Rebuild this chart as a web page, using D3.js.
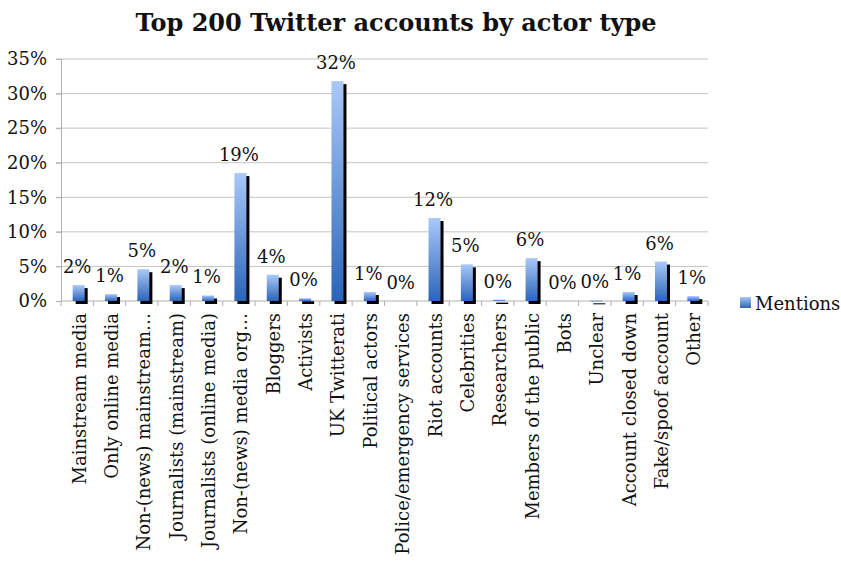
<!DOCTYPE html>
<html>
<head>
<meta charset="utf-8">
<script src="https://cdn.jsdelivr.net/npm/d3@7"></script>
<style>
  html, body { margin: 0; padding: 0; background: #fff; }
  svg { display: block; }
  text { font-family: "DejaVu Serif", serif; fill: #111; }
</style>
</head>
<body>
<svg id="chart" width="841" height="561"></svg>
<script>
const title = "Top 200 Twitter accounts by actor type";
const categories = [
  "Mainstream media", "Only online media", "Non-(news) mainstream…",
  "Journalists (mainstream)", "Journalists (online media)", "Non-(news) media org…",
  "Bloggers", "Activists", "UK Twitterati", "Political actors",
  "Police/emergency services", "Riot accounts", "Celebrities", "Researchers",
  "Members of the public", "Bots", "Unclear", "Account closed down",
  "Fake/spoof account", "Other"
];
const mentions = [
  0.023, 0.010, 0.046, 0.023, 0.008, 0.185,
  0.038, 0.004, 0.318, 0.013,
  0.000, 0.120, 0.053, 0.002,
  0.062, 0.000, 0.001, 0.013,
  0.057, 0.007
];
const seriesName = "Mentions";
const yTicks = [0, 0.05, 0.10, 0.15, 0.20, 0.25, 0.30, 0.35];

const svg = d3.select("#chart");
const pLeft = 61, pRight = 708, pTop = 59, pBottom = 301;

const x = d3.scaleBand().domain(categories).range([pLeft, pRight]).padding(0);
const y = d3.scaleLinear().domain([0, 0.35]).range([pBottom, pTop]);

const defs = svg.append("defs");
const grad = defs.append("linearGradient").attr("id", "barGrad")
  .attr("x1", 0).attr("y1", 0).attr("x2", 0).attr("y2", 1);
grad.append("stop").attr("offset", "0%").attr("stop-color", "#a9c9f8");
grad.append("stop").attr("offset", "100%").attr("stop-color", "#2c64b8");

// title
svg.append("text")
  .attr("x", 396).attr("y", 31)
  .attr("text-anchor", "middle")
  .style("font-size", "24px").style("font-weight", "bold")
  .text(title);

// gridlines
svg.append("g").selectAll("line").data(yTicks.slice(1)).join("line")
  .attr("x1", pLeft - 5).attr("x2", pRight)
  .attr("y1", d => y(d)).attr("y2", d => y(d))
  .attr("stroke", "#c4c4c4").attr("stroke-width", 1);

// y axis
const yAxis = d3.axisLeft(y).tickValues(yTicks).tickFormat(d3.format(".0%")).tickSize(5).tickPadding(9);
const gy = svg.append("g").attr("transform", `translate(${pLeft},0)`).call(yAxis);
gy.select(".domain").attr("stroke", "#b0b0b0");
gy.selectAll(".tick line").attr("stroke", "#b0b0b0");
gy.selectAll(".tick text").style("font-size", "18px").style("font-family", "DejaVu Serif, serif").attr("fill", "#111");

// x axis
const gx = svg.append("g").attr("transform", `translate(0,${pBottom})`);
gx.append("line").attr("x1", pLeft).attr("x2", pRight).attr("y1", 0).attr("y2", 0).attr("stroke", "#b0b0b0");
gx.selectAll("line.tk").data(d3.range(categories.length + 1)).join("line")
  .attr("class", "tk")
  .attr("x1", i => pLeft + i * x.bandwidth()).attr("x2", i => pLeft + i * x.bandwidth())
  .attr("y1", 0).attr("y2", 5).attr("stroke", "#b0b0b0");
gx.selectAll("text").data(categories).join("text")
  .attr("transform", d => `translate(${x(d) + x.bandwidth() / 2 + 2},12) rotate(-90)`)
  .attr("text-anchor", "end")
  .attr("dominant-baseline", "central")
  .style("font-size", "18px")
  .text(d => d);

// bars
const bw = 12;
const data = categories.map((c, i) => ({ c, v: mentions[i] }));
const bars = svg.append("g");
bars.selectAll("rect.shadow").data(data.filter(d => d.v > 0)).join("rect")
  .attr("class", "shadow")
  .attr("x", d => x(d.c) + x.bandwidth() / 2 - 4.5 + 3)
  .attr("y", d => y(d.v) + 3)
  .attr("width", bw)
  .attr("height", d => Math.max(1, pBottom - y(d.v)))
  .attr("fill", "#000");
bars.selectAll("rect.front").data(data.filter(d => d.v > 0)).join("rect")
  .attr("class", "front")
  .attr("x", d => x(d.c) + x.bandwidth() / 2 - 4.5)
  .attr("y", d => y(d.v))
  .attr("width", bw)
  .attr("height", d => Math.max(1, pBottom - y(d.v)))
  .attr("fill", "url(#barGrad)");

// data labels
svg.append("g").selectAll("text").data(data).join("text")
  .attr("x", d => x(d.c) + x.bandwidth() / 2)
  .attr("y", d => y(d.v) - 12)
  .attr("text-anchor", "middle")
  .style("font-size", "18px")
  .text(d => d3.format(".0%")(d.v));

// legend
const lg = svg.append("g").attr("transform", "translate(740,297)");
lg.append("rect").attr("width", 11).attr("height", 11).attr("fill", "url(#barGrad)");
lg.append("text").attr("x", 15).attr("y", 6).attr("dominant-baseline", "central")
  .style("font-size", "18px").text(seriesName);
</script>
</body>
</html>
